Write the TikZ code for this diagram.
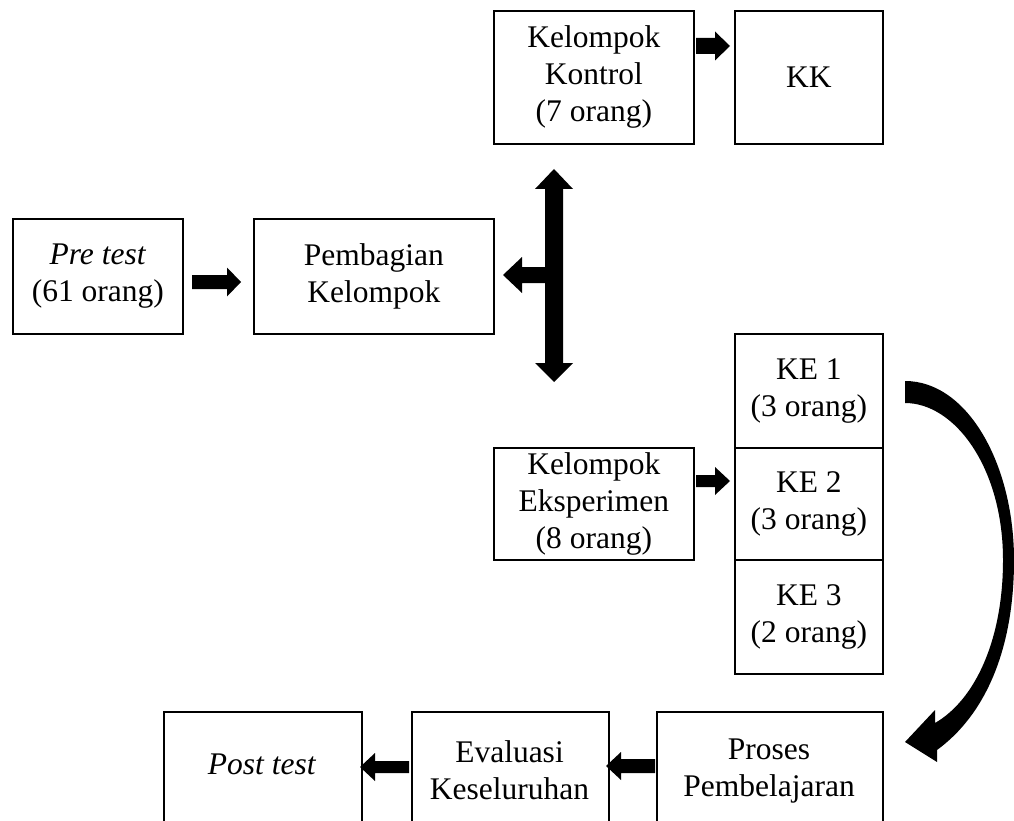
\documentclass[tikz,border=0pt]{standalone}
\usepackage{fontspec}
\setmainfont{Liberation Serif}
\newcommand\harrow[6]{% x1 (tail), x2 (tip), yc, shaft half, head half, signed head length
  \pgfmathsetmacro\hb{#2-(#6)}%
  \pgfmathsetmacro\ya{#3-#4}\pgfmathsetmacro\yb{#3+#4}%
  \pgfmathsetmacro\yc{#3-#5}\pgfmathsetmacro\yd{#3+#5}%
  \fill[black] (#1,\ya) -- (\hb,\ya) -- (\hb,\yc) -- (#2,#3)
     -- (\hb,\yd) -- (\hb,\yb) -- (#1,\yb) -- cycle;}
\begin{document}
\begin{tikzpicture}[x=1pt,y=-1pt,
  box/.style={draw, line width=1.8pt, inner sep=0pt, anchor=north west, align=center,
              font=\fontsize{31.5}{37}\selectfont},
  txt/.style={align=center, inner sep=0pt, font=\fontsize{31.5}{37}\selectfont}]
\clip (0,0) rectangle (1014,821);
% boxes
\node[box, minimum width=170, minimum height=115] (pre)  at (12,218)  {\textit{Pre test}\\(61 orang)};
\node[box, minimum width=240, minimum height=115] (pemb) at (253,218) {Pembagian\\Kelompok};
\node[box, minimum width=200, minimum height=133] (kon)  at (493,10)  {Kelompok\\Kontrol\\(7 orang)};
\node[box, minimum width=148, minimum height=133] (kk)   at (734,10)  {KK};
\node[box, minimum width=200, minimum height=112] (eks)  at (493,447) {Kelompok\\Eksperimen\\(8 orang)};
\node[box, minimum width=148, minimum height=114] (ke1)  at (734,333) {KE 1\\(3 orang)};
\node[box, minimum width=148, minimum height=112] (ke2)  at (734,447) {KE 2\\(3 orang)};
\node[box, minimum width=148, minimum height=114] (ke3)  at (734,559) {KE 3\\(2 orang)};
\node[box, minimum width=198, minimum height=130] (post) at (163,711) {};
\node[box, minimum width=197, minimum height=130] (eval) at (411,711) {};
\node[box, minimum width=226, minimum height=130] (pros) at (656,711) {};
\node[txt] (postt) at (262,764.5) {\textit{Post test}};
\node[txt] (evalt) at (509.5,770) {Evaluasi\\Keseluruhan};
\node[txt] (prost) at (769,771.5) {Proses\\Pembelajaran};
% block arrows
\harrow{192}{241}{282}{7}{14.5}{14}
\harrow{696}{730}{46}{8}{14.5}{15}
\harrow{696}{730}{481}{6}{14}{15}
\harrow{655}{606}{766}{7}{14}{-15}
\harrow{409}{360}{767}{6}{14}{-15}
% T-shaped double arrow
\fill[black] (554,169) -- (573,189) -- (563,189) -- (563,363) -- (573,363) -- (554,382)
  -- (535,363) -- (545,363) -- (545,283) -- (522,283) -- (522,293) -- (503,275)
  -- (522,257) -- (522,267) -- (545,267) -- (545,189) -- (535,189) -- cycle;
% curved arrow
\fill[black] (905,381) .. controls (968,381) and (1014,465) .. (1014,560)
  .. controls (1014,650) and (985,715) .. (937,750) -- (937,762) -- (905,742)
  -- (935,710) -- (935,723) .. controls (975,700) and (1003,640) .. (1003,560)
  .. controls (1003,468) and (955,403) .. (905,403) -- cycle;
\end{tikzpicture}
\end{document}
